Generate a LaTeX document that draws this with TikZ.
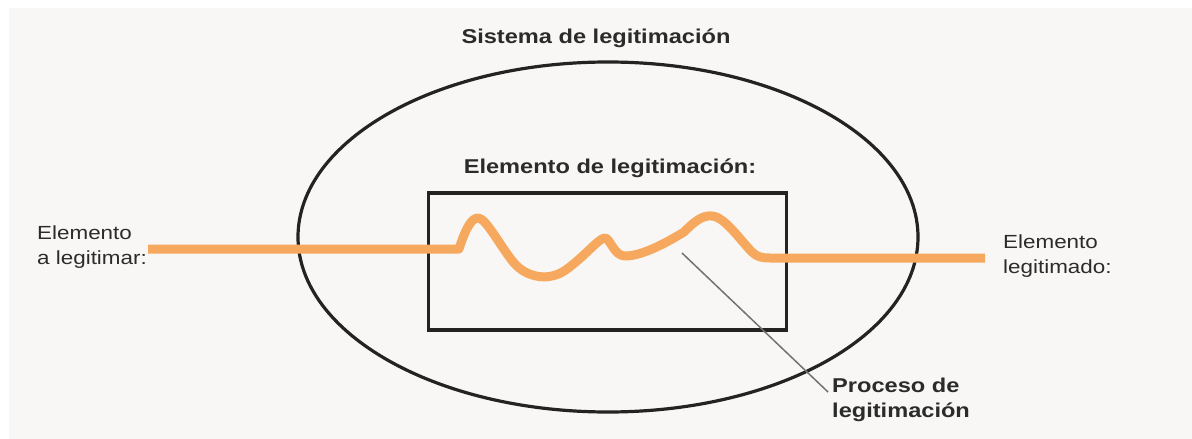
\documentclass[tikz,border=0pt]{standalone}
\usepackage{fontspec}
\setmainfont{Liberation Sans}
\newfontfamily\labfont{Liberation Sans}[FakeStretch=1.18]
\usetikzlibrary{calc,shapes.geometric}
\definecolor{bgc}{HTML}{F8F7F5}
\definecolor{txtc}{HTML}{2B2B2B}
\definecolor{orng}{HTML}{F6A95E}
\definecolor{edgec}{HTML}{232323}
\definecolor{leadc}{HTML}{727272}
\tikzset{
  boldlab/.style={font=\labfont\fontsize{20}{25}\selectfont\bfseries, text=txtc, inner sep=0pt},
  normlab/.style={font=\labfont\fontsize{19}{25}\selectfont, text=txtc, inner sep=0pt, align=left},
  orangeline/.style={draw=orng, line width=9pt, line join=round, line cap=butt},
  outline/.style={draw=edgec, line width=3.2pt},
  leader/.style={draw=leadc, line width=1.5pt}
}
\begin{document}
\begin{tikzpicture}[x=1pt,y=-1pt]
\useasboundingbox (0,0) rectangle (1192,439);
\fill[white] (0,0) rectangle (1192,439);
\fill[bgc] (9,8) rectangle (1192,439);
% system ellipse
\node[outline, ellipse, minimum width=620pt, minimum height=350pt, inner sep=0pt] (sys) at (608,237) {};
\node[boldlab] (systitle) at (596,38) {Sistema de legitimación};
% element box
\node[outline, rectangle, minimum width=358pt, minimum height=137pt, inner sep=0pt] (box) at (607.5,261.5) {};
\node[boldlab] (boxtitle) at (610,168) {Elemento de legitimación:};
% labels
\node[normlab, anchor=west] (inlab) at (37,247) {Elemento\\a legitimar:};
\node[normlab, anchor=west] (outlab) at (1003,256) {Elemento\\legitimado:};
\node[boldlab, align=left, anchor=west] (proc) at (832,400) {Proceso de\\legitimación};
% orange process line
\coordinate (pin) at (148,249);
\coordinate (pout) at (985,258);
\draw[orangeline] (pin) -- (459,249)
  .. controls (466,227) and (472,218) .. (478,218)
  .. controls (486,218) and (500,246) .. (514,263)
  .. controls (527,278) and (550,282) .. (567,269)
  .. controls (585,256) and (599,238) .. (605,238)
  .. controls (610,238) and (614,256) .. (625,256)
  .. controls (642,256) and (666,243) .. (684,232)
  .. controls (694,222) and (702,215) .. (712,216)
  .. controls (725,217) and (740,240) .. (752,252)
  .. controls (757,257) and (762,258) .. (770,258)
  -- (pout);
% leader
\coordinate (lstart) at (682,253);
\coordinate (lend) at (828,392);
\draw[leader] (lstart) -- (lend);
\end{tikzpicture}
\end{document}
